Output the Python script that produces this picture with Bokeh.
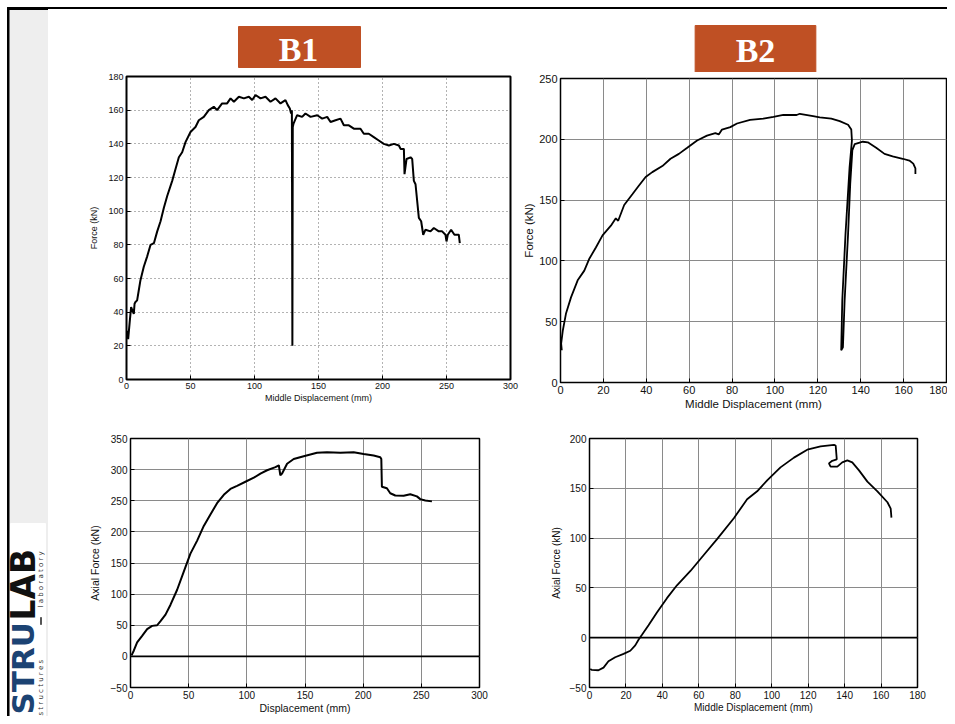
import numpy as np
from bokeh.plotting import figure
from bokeh.layouts import row, column
from bokeh.models import Range1d, FixedTicker, Span, Div
from bokeh.core.properties import value
from bokeh.embed import file_html
from bokeh.resources import INLINE

# ---------------- data ----------------
# B1: force vs middle displacement
b1_disp = [0.5, 1.3, 2.6, 3.6, 5.7, 6.3, 7.0, 8.3, 9.6, 10.9, 13.5, 16.1, 18.8, 21.4, 24.0, 26.6,
           29.2, 31.8, 35.7, 38.3, 40.9, 43.5, 46.1, 50.0, 53.9, 56.5, 60.4, 64.3, 68.2, 70.8,
           74.7, 78.6, 81.3, 83.9, 87.8, 91.7, 95.6, 98.2, 100.8, 104.7, 108.6, 112.5, 116.4,
           120.3, 124.2, 126.0, 127.6, 128.6, 129.2, 129.6, 129.9, 130.5, 133.3, 137.2, 139.8,
           143.8, 149.0, 152.9, 156.8, 159.4, 163.3, 167.2, 169.8, 173.7, 177.6, 182.8, 185.4,
           189.3, 193.2, 197.1, 201.0, 205.0, 208.9, 212.8, 214.1, 216.7, 217.2, 218.8, 221.9,
           223.2, 224.5, 225.8, 228.4, 230.2, 231.8, 233.6, 237.5, 240.1, 244.0, 246.6, 249.2,
           250.0, 251.0, 253.6, 256.2, 259.6, 260.4]
b1_force = [29, 24, 35, 43, 39, 45, 46, 47, 53, 59, 67, 73, 80, 81, 88, 94,
            102, 109, 118, 125, 132, 135, 141, 147, 150, 154, 156, 160, 162, 160,
            164, 164, 167, 165, 168, 167, 168, 166, 169, 167, 168, 165, 167,
            164, 166, 163, 161, 158, 160, 20, 150, 152, 157, 156, 158,
            156, 157, 155, 156, 153, 154, 155, 151, 151, 149, 149, 146,
            146, 144, 142, 140, 139, 140, 139, 137, 137, 122, 131, 132,
            131, 118, 116, 96, 94, 86, 89, 88, 90, 88, 88, 86,
            82, 86, 89, 86, 86, 81]

# B2: force vs middle displacement
b2_disp = [0.6, 0.3, 1.1, 2.6, 4.9, 8.0, 11.1, 13.5, 16.5, 19.6, 23.5, 25.8, 26.9, 29.7,
           33.6, 36.6, 39.7, 42.8, 47.5, 51.3, 55.2, 59.1, 63.7, 68.3, 72.2, 73.8, 75.3,
           79.2, 82.3, 88.4, 94.6, 99.3, 103.9, 110.1, 111.6, 117.8, 120.9, 126.3, 130.2,
           134.1, 135.6, 135.9, 134.8, 132.9, 131.4, 130.9, 131.7, 132.5, 134.1, 135.1,
           136.1, 137.2, 141.0, 143.3, 147.2, 151.1, 154.9, 159.6, 162.7, 164.5, 165.5, 165.5]
b2_force = [26.5, 32, 43, 57, 70, 84, 92, 102, 111, 121, 129, 135, 133, 146,
            155, 162, 169, 173, 178, 184, 188, 193, 199, 203, 205, 204, 208,
            210, 213, 216, 217, 218.5, 220, 220, 221, 219, 218, 217, 215,
            212, 208, 199, 177, 122, 67.6, 26.5, 29, 67.6, 122, 163,
            191, 196, 198, 197.5, 193, 188, 186, 184, 182.5, 180, 176, 171.5]

# B1: axial force vs displacement
b1a_disp = [0.9, 2.9, 5.7, 10.0, 14.3, 18.6, 22.9, 25.8, 30.1, 34.4, 40.1, 45.8, 51.5, 57.3,
            63.0, 68.7, 74.4, 80.2, 85.9, 91.6, 98.8, 106.0, 111.7, 117.4, 124.6, 127.5,
            128.8, 130.3, 134.6, 140.3, 148.9, 160.3, 168.9, 180.4, 191.8, 200.4, 209.0,
            214.7, 215.6, 216.1, 220.4, 223.3, 227.6, 234.8, 240.5, 246.2, 249.1, 253.4, 259.1]
b1a_force = [1.6, 9.5, 22.6, 33, 43.7, 49, 50, 56.8, 67, 83, 107, 136, 165, 186,
             209.5, 228, 246, 259.5, 269, 274, 280.5, 287, 293.7, 299, 304, 307,
             291, 293.7, 309.5, 317, 321.6, 327, 328, 327, 328, 325, 322.6,
             320, 317, 272.6, 270, 262, 258.4, 258, 260.5, 257, 252.6, 250.5, 249]

# B2: axial force vs middle displacement
b2a_disp = [0.4, 1.3, 4.9, 7.7, 10.4, 14.1, 18.7, 22.4, 25.1, 26.9, 28.8, 32.4, 37.0, 42.5,
            48.0, 55.4, 62.7, 70.0, 79.2, 86.5, 92.0, 97.5, 104.8, 112.2, 119.5, 126.8,
            134.2, 135.1, 135.7, 133.2, 131.4, 132.3, 136.0, 138.7, 141.5, 144.2, 147.9,
            152.5, 158.0, 163.5, 165.3, 165.7]
b2a_force = [-31.4, -32.4, -32.7, -30, -23.7, -19.6, -16.3, -13.1, -7.7, -2, 2.9, 12.5, 25.3, 39.7,
             52.6, 67, 83, 99, 119.9, 139, 147, 158, 171, 180.8, 188.8, 192,
             193.6, 193, 179, 177.6, 175, 171.8, 171.8, 176, 178, 176, 168,
             156.7, 147, 136, 129.5, 120.5]

ticks_disp300 = [0, 50, 100, 150, 200, 250, 300]
ticks_disp180 = [0, 20, 40, 60, 80, 100, 120, 140, 160, 180]
ticks_f180 = [0, 20, 40, 60, 80, 100, 120, 140, 160, 180]
ticks_f250 = [0, 50, 100, 150, 200, 250]
ticks_a350 = [-50, 0, 50, 100, 150, 200, 250, 300, 350]
ticks_a200 = [-50, 0, 50, 100, 150, 200]

FONT = "Liberation Sans"


def make_plot(w, h, bl, br, bt, bb, xr, yr, xt, yt, xlabel, ylabel, tick_fs, lab_fs,
              dash, outline_w, ylab_standoff, xlab_standoff=1):
    p = figure(width=w, height=h, output_backend="svg", toolbar_location=None,
               x_range=Range1d(*xr), y_range=Range1d(*yr),
               min_border_left=bl, min_border_right=br, min_border_top=bt, min_border_bottom=bb)
    p.xaxis.ticker = FixedTicker(ticks=xt)
    p.yaxis.ticker = FixedTicker(ticks=yt)
    p.xaxis.axis_label = xlabel
    p.yaxis.axis_label = ylabel
    p.axis.major_tick_in = 4
    p.axis.major_tick_out = 0
    p.axis.minor_tick_line_color = None
    p.axis.major_tick_line_color = "black"
    p.axis.axis_line_color = "black"
    p.axis.major_label_standoff = 3
    p.axis.major_label_text_font = FONT
    p.axis.major_label_text_font_size = tick_fs
    p.axis.major_label_text_color = "#111111"
    p.axis.axis_label_text_font = FONT
    p.axis.axis_label_text_font_size = lab_fs
    p.axis.axis_label_text_font_style = "normal"
    p.axis.axis_label_text_color = "#111111"
    p.xaxis.axis_label_standoff = xlab_standoff
    p.yaxis.axis_label_standoff = ylab_standoff
    p.grid.grid_line_color = "#8a8a8a"
    p.grid.grid_line_width = 1
    if dash:
        p.grid.grid_line_dash = dash
        p.grid.grid_line_color = "#666666"
    p.outline_line_color = "black"
    p.outline_line_width = outline_w
    p.background_fill_color = "white"
    p.border_fill_color = "white"
    return p


# ---- top-left: B1 force ----
p_tl = make_plot(472, 346, 78, 10, 6, 37, (0, 300), (0, 180), ticks_disp300, ticks_f180,
                 "Middle Displacement (mm)", "Force (kN)", "9px", "9px", "1 3", 2, 6)
p_tl.line(b1_disp, b1_force, line_color="black", line_width=2)

# ---- top-right: B2 force ----
p_tr = make_plot(427, 344, 39, 1, 6, 34, (0, 180), (0, 250), ticks_disp180, ticks_f250,
                 "Middle Displacement (mm)", "Force (kN)", "11px", "11.5px", None, 1.5, 1)
p_tr.line(b2_disp, b2_force, line_color="black", line_width=1.8)

# ---- bottom-left: B1 axial force ----
p_bl = make_plot(482, 300, 82, 51, 22, 27, (0, 300), (-50, 350), ticks_disp300, ticks_a350,
                 "Displacement (mm)", "Axial Force (kN)", "10px", "10.5px", None, 1.5, 7, 0)
p_bl.line(b1a_disp, b1a_force, line_color="black", line_width=2)
p_bl.add_layout(Span(location=0, dimension="width", line_color="black", line_width=1.8))

# ---- bottom-right: B2 axial force ----
p_br = make_plot(417, 300, 59, 30, 21, 27, (0, 180), (-50, 200), ticks_disp180, ticks_a200,
                 "Middle Displacement (mm)", "Axial Force (kN)", "10px", "10px", None, 1.5, 5, 0)
p_br.line(b2a_disp, b2a_force, line_color="black", line_width=1.8)
p_br.add_layout(Span(location=0, dimension="width", line_color="black", line_width=1.8))


def deco(w, h, bl=0, br=0, xr=None, bg="white"):
    xr = xr if xr is not None else (0, w)
    p = figure(width=w, height=h, output_backend="svg", toolbar_location=None,
               x_range=Range1d(*xr), y_range=Range1d(0, h),
               min_border_left=bl, min_border_right=br, min_border_top=0, min_border_bottom=0,
               x_axis_location=None, y_axis_location=None)
    p.grid.visible = False
    p.outline_line_color = None
    p.background_fill_color = bg
    p.border_fill_color = bg
    return p


RUST = "#BF5024"

# top rule of the slide (page y 0..10, line at 7..9)
top_rule = Div(text='<div style="position:absolute;left:0;top:7px;width:899px;height:2px;'
                    'background:#000;"></div>', width=899, height=10,
               styles={"position": "relative", "margin": "0", "padding": "0"})

# label strip above B1 (page y 10..70); frame matches the plot frame below
s_l = deco(472, 60, bl=78, br=10, xr=(78, 462))
s_l.quad(left=[190], right=[312], bottom=[3], top=[44], color=RUST)
s_l.text(x=[250], y=[21], text=["B1"], text_align="center", text_baseline="middle",
         text_color="white", text_font=value("Liberation Serif"), text_font_style="bold",
         text_font_size="34px")

# label strip above B2 (page y 10..72)
s_r = deco(427, 62, bl=39, br=1, xr=(39, 426))
s_r.quad(left=[174], right=[295], bottom=[0], top=[47], color=RUST)
s_r.text(x=[234.5], y=[22], text=["B2"], text_align="center", text_baseline="middle",
         text_color="white", text_font=value("Liberation Serif"), text_font_style="bold",
         text_font_size="34px")

# left strip with logo (page x 0..48, y 0..716)
strip = deco(48, 716)
strip.quad(left=[8.5], right=[48], bottom=[0], top=[707], color="#EEEEEE")
strip.quad(left=[7], right=[48], bottom=[707], top=[709], color="black")
strip.quad(left=[7], right=[8.5], bottom=[0], top=[709], color="black")
strip.quad(left=[10], right=[45], bottom=[0], top=[193], color="white")
strip.text(x=[22.5], y=[2], text=["STRU"], angle=np.pi / 2, text_align="left",
           text_baseline="middle", text_color="#1C4373",
           text_font=value("DejaVu Sans"), text_font_style="bold", text_font_size="31px")
strip.text(x=[22.5], y=[96], text=["LAB"], angle=np.pi / 2, text_align="left",
           text_baseline="middle", text_color="#111111",
           text_font=value("DejaVu Sans"), text_font_style="bold", text_font_size="33px")
strip.text(x=[40.5], y=[1], text=["s t r u c t u r e s"], angle=np.pi / 2, text_align="left",
           text_baseline="middle", text_color="#333333",
           text_font=value("DejaVu Sans"), text_font_size="7px")
strip.quad(left=[40], right=[41], bottom=[92], top=[99], color="#555555")
strip.text(x=[40.5], y=[109], text=["l a b o r a t o r y"], angle=np.pi / 2, text_align="left",
           text_baseline="middle", text_color="#333333",
           text_font=value("DejaVu Sans"), text_font_size="7px")

right = column(top_rule,
               row(column(s_l, p_tl), column(s_r, p_tr)),
               row(p_bl, p_br))
layout = row(strip, right)

open("out.html", "w").write(file_html(layout, INLINE))
